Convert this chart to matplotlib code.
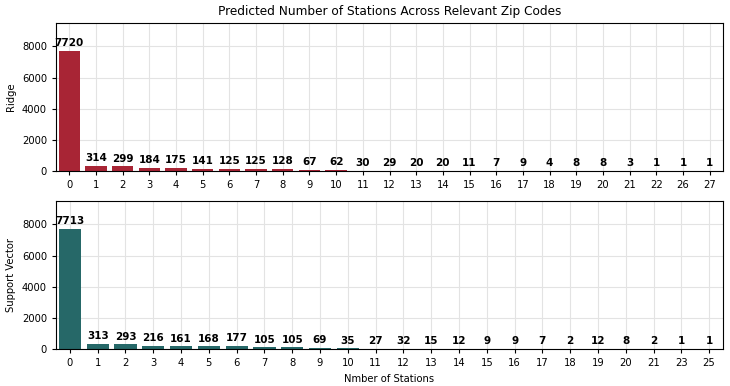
import matplotlib
matplotlib.use('Agg')
import matplotlib.pyplot as plt
import numpy as np

# station counts (category labels) and predicted zip code counts
ridge_labels = ['0', '1', '2', '3', '4', '5', '6', '7', '8', '9', '10', '11', '12',
                '13', '14', '15', '16', '17', '18', '19', '20', '21', '22', '26', '27']
ridge_counts = [7720, 314, 299, 184, 175, 141, 125, 125, 128, 67, 62, 30, 29,
                20, 20, 11, 7, 9, 4, 8, 8, 3, 1, 1, 1]

svr_labels = ['0', '1', '2', '3', '4', '5', '6', '7', '8', '9', '10', '11', '12',
              '13', '14', '15', '16', '17', '18', '19', '20', '21', '23', '25']
svr_counts = [7713, 313, 293, 216, 161, 168, 177, 105, 105, 69, 35, 27, 32,
              15, 12, 9, 9, 7, 2, 12, 8, 2, 1, 1]

plt.rcParams['font.family'] = 'DejaVu Sans'

fig = plt.figure(figsize=(7.3, 3.86), dpi=100)
ax1 = fig.add_axes([56 / 730, 1 - 171 / 386, 667 / 730, 148 / 386])
ax2 = fig.add_axes([56 / 730, 1 - 349 / 386, 667 / 730, 148 / 386])


def draw(ax, labels, counts, color, ylabel):
    x = np.arange(len(labels))
    ax.bar(x, counts, width=0.8, color=color, zorder=2)
    ax.grid(True, color='#e3e3e3', linewidth=0.8, zorder=0)
    ax.set_axisbelow(True)
    for xi, c in zip(x, counts):
        ax.text(xi, c + 180, str(c), ha='center', va='bottom',
                fontsize=7.5, fontweight='bold')
    ax.set_xticks(x)
    ax.set_xticklabels(labels)
    ax.set_xlim(-0.5, len(labels) - 0.5)
    ax.set_ylim(0, 9500)
    ax.set_yticks([0, 2000, 4000, 6000, 8000])
    ax.set_ylabel(ylabel, fontsize=7.2)
    ax.tick_params(labelsize=7.2, length=3)


draw(ax1, ridge_labels, ridge_counts, '#a82535', 'Ridge')
draw(ax2, svr_labels, svr_counts, '#266868', 'Support Vector')

ax1.set_title('Predicted Number of Stations Across Relevant Zip Codes', fontsize=8.7)
ax2.set_xlabel('Nmber of Stations', fontsize=7.2)

fig.savefig('out.png', dpi=100)
